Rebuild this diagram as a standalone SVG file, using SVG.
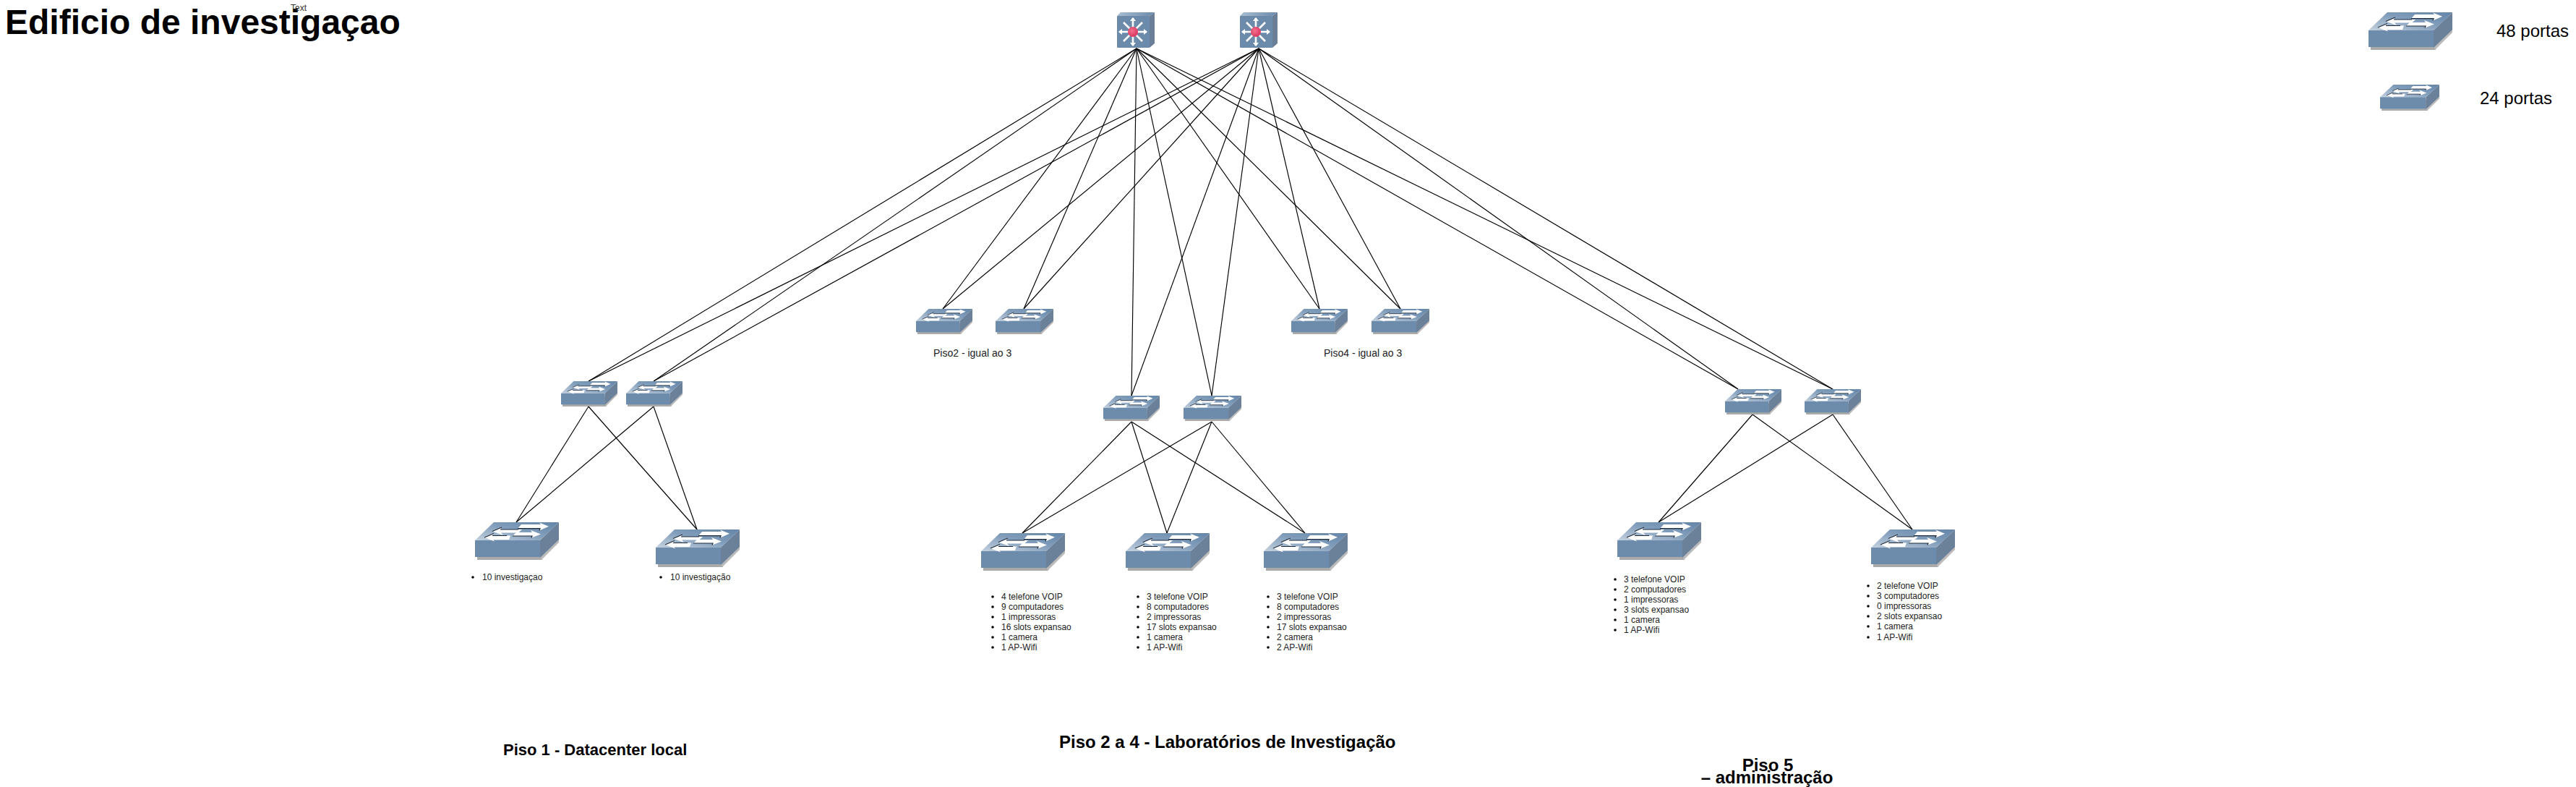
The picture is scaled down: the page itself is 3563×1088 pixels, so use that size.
<svg xmlns="http://www.w3.org/2000/svg" xmlns:xlink="http://www.w3.org/1999/xlink" width="3563" height="1088" viewBox="0 0 3563 1088">
<style>
text{font-family:"Liberation Sans",Arial,sans-serif;fill:#000}
.title{font-size:48px;font-weight:700}
.floor{font-size:22px;font-weight:700}
.floor2{font-size:24px;font-weight:700}
.legend{font-size:24px}
.cap{font-size:14px;fill:#222}
.item{font-size:12px;fill:#222}
.small{font-size:12px;fill:#333}
.link{stroke:#000;stroke-width:1.15;fill:none}
.dot{fill:#000}
</style>
<defs>
<linearGradient id="topFace" x1="0" y1="1" x2="1" y2="0"><stop offset="0" stop-color="#c4d1de"/><stop offset="0.55" stop-color="#7f9cba"/><stop offset="1" stop-color="#6485a9"/></linearGradient>
<linearGradient id="coreTop" x1="0" y1="0" x2="1" y2="0"><stop offset="0" stop-color="#a9bdd0"/><stop offset="1" stop-color="#6c8bac"/></linearGradient>
<radialGradient id="hub" cx="0.4" cy="0.4" r="0.7"><stop offset="0" stop-color="#f4708c"/><stop offset="1" stop-color="#d92f5a"/></radialGradient>
<symbol id="sw" viewBox="0 0 116 52" preserveAspectRatio="none">
<path d="M3 30H93V52H3Z" fill="#aaa"/><path d="M92 52L116 28V22L90 48Z" fill="#bbb"/>
<path d="M0 25L26 0H116L90 25Z" fill="url(#topFace)"/>
<path d="M0 25H90V48H0Z" fill="#6d8bab"/>
<path d="M90 25L116 0V24L90 49Z" fill="#6b8199"/>
<g fill="#fff">
<path d="M24 12.5L37 7L35 10H65L60 14.5H36L39 18Z"/>
<path d="M64 3H91L89 0.5L102 5.7L89 11.5L90 8.7H59Z"/>
<path d="M13 21L26 15.5L24 18.5H49L47 24H25L27 26.5Z"/>
<path d="M57 14H79L77 11L91 16.5L78 21.5L79 19H52Z"/>
</g>
<g fill="none" stroke="#1d2a3a" stroke-width="1.2">
<path d="M24 12.5L37 7M35 10H60"/><path d="M13 21L26 15.5M24 18.5H44"/>
<path d="M59 8.7H90L89 11.5"/><path d="M52 19H79L78 21.5"/>
</g>
</symbol>
<symbol id="core" viewBox="0 0 52 49">
<path d="M0 5L5 0H52L45 5Z" fill="url(#coreTop)"/>
<rect x="0" y="5" width="45" height="44" rx="1" fill="#6c8bab"/>
<path d="M45 5L52 0V43L45 49Z" fill="#6a7f97"/>
<g stroke="#fff" stroke-width="2.6">
<path d="M22 8V46M3 27H41M9 14L35 40M35 14L9 40"/>
</g>
<g fill="#fff"><path d="M22 7L26 12H18Z"/><path d="M22 47L26 42H18Z"/><path d="M2 27L7 23V31Z"/><path d="M42 27L37 23V31Z"/></g>
<circle cx="22" cy="27" r="7" fill="url(#hub)"/>
</symbol>
</defs>
<g id="connectors">
<line class="link" x1="1572" y1="67" x2="814" y2="527"/><line class="link" x1="1741" y1="67" x2="814" y2="527"/>
<line class="link" x1="1572" y1="67" x2="904" y2="527"/><line class="link" x1="1741" y1="67" x2="904" y2="527"/>
<line class="link" x1="1572" y1="67" x2="1304" y2="427"/><line class="link" x1="1741" y1="67" x2="1304" y2="427"/>
<line class="link" x1="1572" y1="67" x2="1416" y2="427"/><line class="link" x1="1741" y1="67" x2="1416" y2="427"/>
<line class="link" x1="1572" y1="67" x2="1565" y2="547"/><line class="link" x1="1741" y1="67" x2="1565" y2="547"/>
<line class="link" x1="1572" y1="67" x2="1676" y2="547"/><line class="link" x1="1741" y1="67" x2="1676" y2="547"/>
<line class="link" x1="1572" y1="67" x2="1825" y2="427"/><line class="link" x1="1741" y1="67" x2="1825" y2="427"/>
<line class="link" x1="1572" y1="67" x2="1937" y2="427"/><line class="link" x1="1741" y1="67" x2="1937" y2="427"/>
<line class="link" x1="1572" y1="67" x2="2404" y2="538"/><line class="link" x1="1741" y1="67" x2="2404" y2="538"/>
<line class="link" x1="1572" y1="67" x2="2535" y2="538"/><line class="link" x1="1741" y1="67" x2="2535" y2="538"/>
<line class="link" x1="814" y1="562" x2="714" y2="722"/><line class="link" x1="814" y1="562" x2="964" y2="732"/>
<line class="link" x1="904" y1="562" x2="714" y2="722"/><line class="link" x1="904" y1="562" x2="964" y2="732"/>
<line class="link" x1="1565" y1="583" x2="1414" y2="737"/><line class="link" x1="1565" y1="583" x2="1614" y2="737"/><line class="link" x1="1565" y1="583" x2="1805" y2="737"/>
<line class="link" x1="1676" y1="583" x2="1414" y2="737"/><line class="link" x1="1676" y1="583" x2="1614" y2="737"/><line class="link" x1="1676" y1="583" x2="1805" y2="737"/>
<line class="link" x1="2424" y1="573" x2="2294" y2="722"/><line class="link" x1="2424" y1="573" x2="2645" y2="732"/>
<line class="link" x1="2535" y1="573" x2="2294" y2="722"/><line class="link" x1="2535" y1="573" x2="2645" y2="732"/>
</g>
<g id="core1"><use xlink:href="#core" href="#core" x="1545" y="17" width="52" height="49"/></g>
<g id="core2"><use xlink:href="#core" href="#core" x="1715" y="17" width="52" height="49"/></g>
<g id="sw-p1-a"><use href="#sw" x="776" y="527" width="78" height="35"/></g>
<g id="sw-p1-b"><use href="#sw" x="866" y="527" width="78" height="35"/></g>
<g id="sw-p2-a"><use href="#sw" x="1267" y="427" width="78" height="35"/></g>
<g id="sw-p2-b"><use href="#sw" x="1377" y="427" width="80" height="35"/></g>
<g id="sw-p3-a"><use href="#sw" x="1526" y="547" width="78" height="35"/></g>
<g id="sw-p3-b"><use href="#sw" x="1637" y="547" width="80" height="35"/></g>
<g id="sw-p4-a"><use href="#sw" x="1786" y="427" width="78" height="35"/></g>
<g id="sw-p4-b"><use href="#sw" x="1897" y="427" width="80" height="35"/></g>
<g id="sw-p5-a"><use href="#sw" x="2386" y="538" width="78" height="35"/></g>
<g id="sw-p5-b"><use href="#sw" x="2496" y="538" width="78" height="35"/></g>
<g id="access-p1-a"><use href="#sw" x="657" y="722" width="116" height="52"/>
<circle class="dot" cx="654" cy="798" r="1.8"/><text class="item" x="667" y="802">10 investigaçao</text></g>
<g id="access-p1-b"><use href="#sw" x="907" y="732" width="116" height="52"/>
<circle class="dot" cx="914" cy="798" r="1.8"/><text class="item" x="927" y="802">10 investigação</text></g>
<g id="access-p3-a"><use href="#sw" x="1357" y="737" width="116" height="52"/>
<circle class="dot" cx="1373" cy="825" r="1.8"/><circle class="dot" cx="1373" cy="839" r="1.8"/><circle class="dot" cx="1373" cy="853" r="1.8"/><circle class="dot" cx="1373" cy="867" r="1.8"/><circle class="dot" cx="1373" cy="881" r="1.8"/><circle class="dot" cx="1373" cy="895" r="1.8"/>
<text class="item" x="1385" y="829">4 telefone VOIP</text><text class="item" x="1385" y="843">9 computadores</text><text class="item" x="1385" y="857">1 impressoras</text><text class="item" x="1385" y="871">16 slots expansao</text><text class="item" x="1385" y="885">1 camera</text><text class="item" x="1385" y="899">1 AP-Wifi</text></g>
<g id="access-p3-b"><use href="#sw" x="1557" y="737" width="116" height="52"/>
<circle class="dot" cx="1574" cy="825" r="1.8"/><circle class="dot" cx="1574" cy="839" r="1.8"/><circle class="dot" cx="1574" cy="853" r="1.8"/><circle class="dot" cx="1574" cy="867" r="1.8"/><circle class="dot" cx="1574" cy="881" r="1.8"/><circle class="dot" cx="1574" cy="895" r="1.8"/>
<text class="item" x="1586" y="829">3 telefone VOIP</text><text class="item" x="1586" y="843">8 computadores</text><text class="item" x="1586" y="857">2 impressoras</text><text class="item" x="1586" y="871">17 slots expansao</text><text class="item" x="1586" y="885">1 camera</text><text class="item" x="1586" y="899">1 AP-Wifi</text></g>
<g id="access-p3-c"><use href="#sw" x="1748" y="737" width="116" height="52"/>
<circle class="dot" cx="1754" cy="825" r="1.8"/><circle class="dot" cx="1754" cy="839" r="1.8"/><circle class="dot" cx="1754" cy="853" r="1.8"/><circle class="dot" cx="1754" cy="867" r="1.8"/><circle class="dot" cx="1754" cy="881" r="1.8"/><circle class="dot" cx="1754" cy="895" r="1.8"/>
<text class="item" x="1766" y="829">3 telefone VOIP</text><text class="item" x="1766" y="843">8 computadores</text><text class="item" x="1766" y="857">2 impressoras</text><text class="item" x="1766" y="871">17 slots expansao</text><text class="item" x="1766" y="885">2 camera</text><text class="item" x="1766" y="899">2 AP-Wifi</text></g>
<g id="access-p5-a"><use href="#sw" x="2237" y="722" width="116" height="52"/>
<circle class="dot" cx="2234" cy="801" r="1.8"/><circle class="dot" cx="2234" cy="815" r="1.8"/><circle class="dot" cx="2234" cy="829" r="1.8"/><circle class="dot" cx="2234" cy="843" r="1.8"/><circle class="dot" cx="2234" cy="857" r="1.8"/><circle class="dot" cx="2234" cy="871" r="1.8"/>
<text class="item" x="2246" y="805">3 telefone VOIP</text><text class="item" x="2246" y="819">2 computadores</text><text class="item" x="2246" y="833">1 impressoras</text><text class="item" x="2246" y="847">3 slots expansao</text><text class="item" x="2246" y="861">1 camera</text><text class="item" x="2246" y="875">1 AP-Wifi</text></g>
<g id="access-p5-b"><use href="#sw" x="2588" y="732" width="116" height="52"/>
<circle class="dot" cx="2584" cy="810" r="1.8"/><circle class="dot" cx="2584" cy="824" r="1.8"/><circle class="dot" cx="2584" cy="838" r="1.8"/><circle class="dot" cx="2584" cy="852" r="1.8"/><circle class="dot" cx="2584" cy="866" r="1.8"/><circle class="dot" cx="2584" cy="881" r="1.8"/>
<text class="item" x="2596" y="814">2 telefone VOIP</text><text class="item" x="2596" y="828">3 computadores</text><text class="item" x="2596" y="842">0 impressoras</text><text class="item" x="2596" y="856">2 slots expansao</text><text class="item" x="2596" y="870">1 camera</text><text class="item" x="2596" y="885">1 AP-Wifi</text></g>
<g id="legend-48"><use href="#sw" x="3276" y="17" width="116" height="52"/><text class="legend" x="3453" y="51">48 portas</text></g>
<g id="legend-24"><use href="#sw" x="3292" y="117" width="82" height="36"/><text class="legend" x="3430" y="144">24 portas</text></g>
<g id="labels">
<text class="title" x="7" y="47">Edificio de investigaçao</text>
<text class="small" x="402" y="15">Text</text>
<text class="cap" x="1291" y="493">Piso2 - igual ao 3</text>
<text class="cap" x="1831" y="493">Piso4 - igual ao 3</text>
<text class="floor" x="696" y="1044">Piso 1 - Datacenter local</text>
<text class="floor2" x="1465" y="1034">Piso 2 a 4 - Laboratórios de Investigação</text>
<text class="floor2" x="2445" y="1066" text-anchor="middle">Piso 5</text>
<text class="floor2" x="2444" y="1083" text-anchor="middle">– administração</text>
</g>
</svg>
